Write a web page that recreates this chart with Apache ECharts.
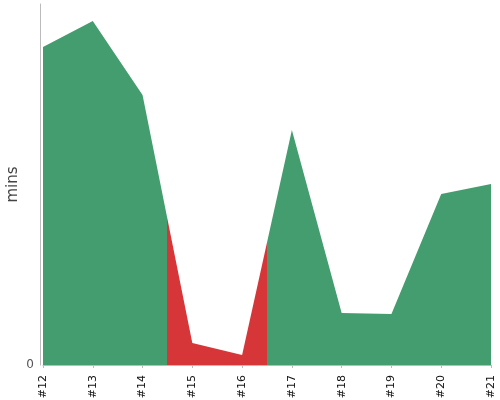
<!DOCTYPE html>
<html>
<head>
<meta charset="utf-8">
<script src="https://cdn.jsdelivr.net/npm/echarts@6/dist/echarts.min.js"></script>
<style>
	html, body { margin: 0; padding: 0; background: #fff; }
	#chart { width: 500px; height: 400px; }
</style>
</head>
<body>
<div id="chart"></div>
<script>
// 数据
var builds = [12, 13, 14, 15, 16, 17, 18, 19, 20, 21];
var mins = [318, 344, 270, 22, 10, 235, 52, 51, 171, 181];
// 红色区段 (构建号)
var badFrom = 14.5;
var badTo = 16.5;

var points = [];
for (var i = 0; i < builds.length; i++) {
	points.push([builds[i], mins[i]]);
}

var chart = echarts.init(document.getElementById('chart'));
var option = {
	animation: false,
	grid: {
		left: 43,
		right: 9,
		top: 4,
		bottom: 35,
		outerBoundsMode: 'none'
	},
	xAxis: {
		type: 'value',
		min: 12,
		max: 21,
		interval: 1,
		offset: 3,
		splitLine: { show: false },
		axisLine: { lineStyle: { color: '#bbb' } },
		axisTick: { length: 3, lineStyle: { color: '#bbb' } },
		axisLabel: {
			rotate: 90,
			color: '#111',
			fontSize: 11,
			fontFamily: 'DejaVu Sans',
			margin: 7,
			showMinLabel: true,
			showMaxLabel: true,
			formatter: function(v) {
				return '#' + v;
			}
		}
	},
	yAxis: {
		type: 'value',
		min: 0,
		max: 361,
		interval: 361,
		offset: 3,
		name: 'mins',
		nameLocation: 'middle',
		nameRotate: 90,
		nameGap: 19,
		nameMoveOverlap: false,
		nameTextStyle: { color: '#444', fontSize: 15, fontFamily: 'DejaVu Sans' },
		axisLine: { show: true, lineStyle: { color: '#bbb' } },
		axisTick: { show: false },
		splitLine: { show: false },
		axisLabel: {
			color: '#555',
			fontSize: 12,
			fontFamily: 'DejaVu Sans',
			margin: 6,
			formatter: function(v) {
				return v === 0 ? '0' : '';
			}
		}
	},
	visualMap: {
		show: false,
		dimension: 0,
		seriesIndex: 0,
		pieces: [
			{ lt: badFrom, color: '#449d6e' },
			{ gte: badFrom, lte: badTo, color: '#d63638' },
			{ gt: badTo, color: '#449d6e' }
		]
	},
	series: [{
		type: 'line',
		data: points,
		symbol: 'none',
		lineStyle: { width: 0 },
		areaStyle: { opacity: 1 }
	}]
};
chart.setOption(option);
</script>
</body>
</html>
